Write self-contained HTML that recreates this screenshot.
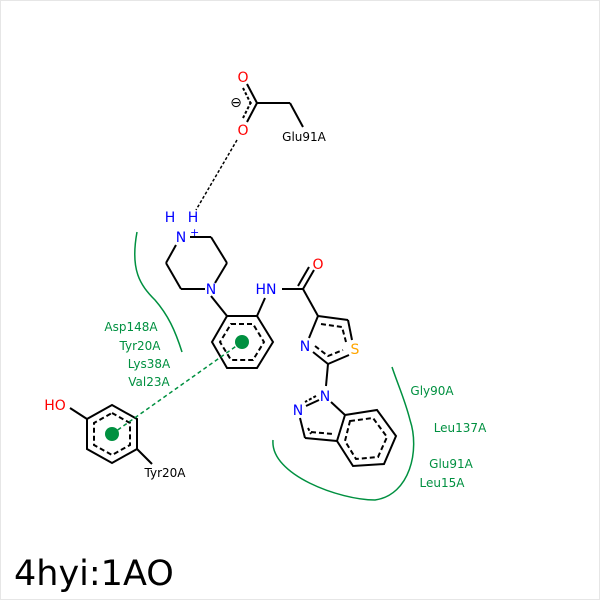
<!DOCTYPE html>
<html><head><style>body{margin:0;background:#fff}svg{display:block}</style></head><body>
<svg width="600" height="600" viewBox="0 0 600 600" xmlns="http://www.w3.org/2000/svg" font-family="DejaVu Sans, Liberation Sans, sans-serif">
<rect x="0.5" y="0.5" width="599" height="599" fill="#fff" stroke="#e6e6e6"/>
<g stroke="#000" stroke-width="2" fill="none">
<line x1="257" y1="103" x2="290" y2="103"/><line x1="290" y1="103" x2="303" y2="127"/>
<line x1="257" y1="103" x2="247" y2="84"/><line x1="257" y1="103" x2="247" y2="122"/>
<line x1="251" y1="104" x2="243" y2="88" stroke-dasharray="3,2"/><line x1="251" y1="102" x2="243" y2="118" stroke-dasharray="3,2"/>
<line x1="237" y1="140" x2="196" y2="210" stroke-width="1.5" stroke-dasharray="3,2"/>
<line x1="190" y1="237" x2="211" y2="237"/><line x1="211" y1="237" x2="227" y2="263"/><line x1="227" y1="263" x2="215" y2="283"/>
<line x1="205" y1="289" x2="181" y2="289"/><line x1="181" y1="289" x2="166" y2="263"/><line x1="166" y1="263" x2="176" y2="245"/>
<line x1="211" y1="296" x2="227" y2="316"/>
<polygon points="227,316 257,316 273,342 257,368 227,368 212,342"/>
<polygon points="231,324 253,324 264,342 253,360 231,360 220,342" stroke-dasharray="5,3"/>
<line x1="257" y1="316" x2="265" y2="298"/>
<line x1="282" y1="289" x2="303" y2="289"/>
<line x1="303" y1="289" x2="314" y2="270"/><line x1="298" y1="286" x2="309" y2="267"/>
<line x1="303" y1="289" x2="318" y2="316"/>
<line x1="318" y1="316" x2="348" y2="320"/><line x1="348" y1="320" x2="352" y2="340"/>
<line x1="349" y1="355" x2="328" y2="364"/><line x1="328" y1="364" x2="313" y2="352"/><line x1="309" y1="338" x2="318" y2="316"/>
<polyline points="321,324 342,327 346,342" stroke-dasharray="5,3"/><polyline points="315,346 328,356 343,350" stroke-dasharray="5,3"/>
<line x1="328" y1="364" x2="326" y2="386"/>
<line x1="319" y1="400" x2="306" y2="406"/><line x1="316" y1="396" x2="305" y2="402" stroke-dasharray="3,2"/>
<line x1="300" y1="418" x2="305" y2="438"/><line x1="308" y1="428" x2="311" y2="434" stroke-dasharray="3,2"/>
<line x1="305" y1="438" x2="337" y2="441"/><line x1="311" y1="432" x2="333" y2="434" stroke-dasharray="5,3"/>
<line x1="331" y1="402" x2="345" y2="415"/>
<polygon points="345,415 377,410 396,436 384,464 353,466 337,441"/>
<polygon points="350,421 373,418 387,437 378,457 356,459 345,441" stroke-dasharray="5,3"/>
<polygon points="112,405 137,419 137,449 112,463 87,449 87,419"/>
<polygon points="112,413 130,423 130,445 112,455 94,445 94,423" stroke-dasharray="5,3"/>
<line x1="87" y1="419" x2="70" y2="408"/>
<line x1="137" y1="449" x2="152" y2="464"/>
</g>
<line x1="112" y1="434" x2="242" y2="342" stroke="#009040" stroke-width="1.5" stroke-dasharray="4,3"/>
<circle cx="242" cy="342" r="7" fill="#009040"/>
<circle cx="112" cy="434" r="7" fill="#009040"/>
<g stroke="#009040" stroke-width="1.5" fill="none">
<path d="M137,232 C130,270 140,285 155,300 C168,315 175,330 182,352"/>
<path d="M273,440 C270,475 340,500 375,500 C410,495 420,450 410,420 C405,400 398,385 392,367"/>
</g>
<g font-size="14">
<text x="243" y="82" fill="#ff0000" text-anchor="middle">O</text>
<text x="243" y="135" fill="#ff0000" text-anchor="middle">O</text>
<text x="236" y="107" fill="#000" text-anchor="middle">⊖</text>
<text x="181" y="242" fill="#0000ff" text-anchor="middle">N</text>
<text x="190" y="236" fill="#0000ff" font-size="11">+</text>
<text x="170" y="222" fill="#0000ff" text-anchor="middle">H</text>
<text x="193" y="222" fill="#0000ff" text-anchor="middle">H</text>
<text x="211" y="294" fill="#0000ff" text-anchor="middle">N</text>
<text x="266" y="294" fill="#0000ff" text-anchor="middle">HN</text>
<text x="318" y="269" fill="#ff0000" text-anchor="middle">O</text>
<text x="305" y="351" fill="#0000ff" text-anchor="middle">N</text>
<text x="355" y="354" fill="#ffa500" text-anchor="middle">S</text>
<text x="325" y="401" fill="#0000ff" text-anchor="middle">N</text>
<text x="298" y="415" fill="#0000ff" text-anchor="middle">N</text>
<text x="55" y="410" fill="#ff0000" text-anchor="middle">HO</text>
</g>
<g font-size="12">
<text x="304" y="141" fill="#000" text-anchor="middle">Glu91A</text>
<text x="165" y="477" fill="#000" text-anchor="middle">Tyr20A</text>
<g fill="#009040" text-anchor="middle">
<text x="131" y="331">Asp148A</text>
<text x="140" y="350">Tyr20A</text>
<text x="149" y="368">Lys38A</text>
<text x="149" y="386">Val23A</text>
<text x="432" y="395">Gly90A</text>
<text x="460" y="432">Leu137A</text>
<text x="451" y="468">Glu91A</text>
<text x="442" y="487">Leu15A</text>
</g></g>
<text x="14" y="585" font-size="35" fill="#000">4hyi:1AO</text>
</svg>
</body></html>
